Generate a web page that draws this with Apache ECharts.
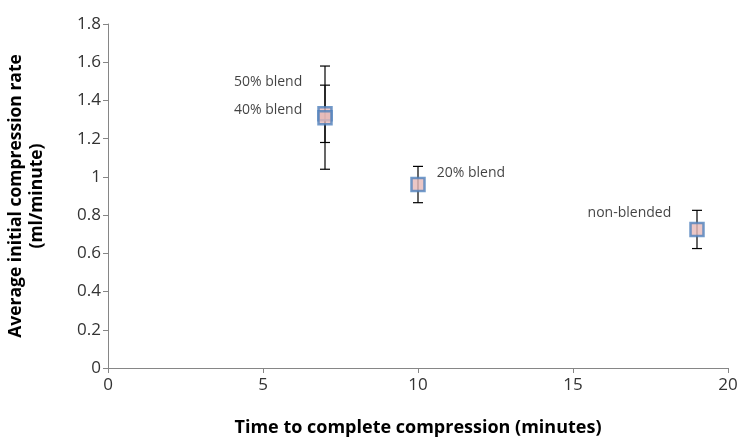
<!DOCTYPE html>
<html>
<head>
<meta charset="utf-8">
<script src="https://cdn.jsdelivr.net/npm/echarts@6/dist/echarts.min.js"></script>
<style>
  html, body { margin: 0; padding: 0; background: #fff; }
  #chart { width: 738px; height: 439px; }
</style>
</head>
<body>
<div id="chart"></div>
<script>
// data
const blendNames = ["50% blend", "40% blend", "20% blend", "non-blended"];
const timeMinutes = [7, 7, 10, 19];
const rateMean = [1.33, 1.31, 0.96, 0.725];
const rateErr = [0.15, 0.27, 0.095, 0.1];
const xTicks = [0, 5, 10, 15, 20];
const yTicks = [0, 0.2, 0.4, 0.6, 0.8, 1, 1.2, 1.4, 1.6, 1.8];

// label placement per point (style only)
const labelSide = ["left", "left", "right", "left"];
const labelDist = [15, 15, 11, 18];
const labelShift = [-32, -8, -12, -16];

const font = "Open Sans";
const chart = echarts.init(document.getElementById("chart"));

const points = blendNames.map((name, i) => ({
  name,
  value: [timeMinutes[i], rateMean[i]],
  label: {
    show: true,
    position: labelSide[i],
    distance: labelDist[i],
    offset: [0, labelShift[i]],
    formatter: "{b}"
  }
}));

const errData = timeMinutes.map((t, i) => [t, rateMean[i] - rateErr[i], rateMean[i] + rateErr[i]]);

chart.setOption({
  animation: false,
  textStyle: { fontFamily: font },
  grid: { left: 108, right: 10, top: 24, bottom: 71, outerBoundsMode: "none", containLabel: false },
  xAxis: {
    type: "value",
    min: xTicks[0],
    max: xTicks[xTicks.length - 1],
    interval: 5,
    name: "Time to complete compression (minutes)",
    nameLocation: "middle",
    nameGap: 51,
    nameTextStyle: { fontFamily: font, fontWeight: "bold", fontSize: 18, color: "#000" },
    axisLine: { show: true, lineStyle: { color: "#868686" } },
    axisTick: { show: true, length: 5, lineStyle: { color: "#868686" } },
    axisLabel: { fontSize: 17, color: "#333", margin: 9 },
    splitLine: { show: false }
  },
  yAxis: {
    type: "value",
    min: yTicks[0],
    max: yTicks[yTicks.length - 1],
    interval: 0.2,
    name: "Average initial compression rate\n(ml/minute)",
    nameLocation: "middle",
    nameRotate: 90,
    nameGap: 60,
    nameTextStyle: { fontFamily: font, fontWeight: "bold", fontSize: 17.5, color: "#000", lineHeight: 21 },
    axisLine: { show: true, lineStyle: { color: "#868686" } },
    axisTick: { show: true, length: 5, lineStyle: { color: "#868686" } },
    axisLabel: { fontSize: 17, color: "#333", margin: 7 },
    splitLine: { show: false }
  },
  series: [
    {
      type: "custom",
      name: "err",
      data: errData,
      z: 2,
      renderItem: (params, api) => {
        const lo = api.coord([api.value(0), api.value(1)]);
        const hi = api.coord([api.value(0), api.value(2)]);
        const cap = 5;
        const style = { stroke: "#000", lineWidth: 1.2 };
        return {
          type: "group",
          children: [
            { type: "line", shape: { x1: lo[0], y1: lo[1], x2: hi[0], y2: hi[1] }, style },
            { type: "line", shape: { x1: lo[0] - cap, y1: lo[1], x2: lo[0] + cap, y2: lo[1] }, style },
            { type: "line", shape: { x1: hi[0] - cap, y1: hi[1], x2: hi[0] + cap, y2: hi[1] }, style }
          ]
        };
      }
    },
    {
      type: "scatter",
      name: "rate",
      data: points,
      z: 3,
      symbol: "rect",
      symbolSize: 13,
      itemStyle: { color: "#e6b9b8", borderColor: "#4f81bd", borderWidth: 2.5 },
      label: { fontSize: 14, color: "#111", fontFamily: font },
      emphasis: { disabled: true }
    }
  ]
});
</script>
</body>
</html>
